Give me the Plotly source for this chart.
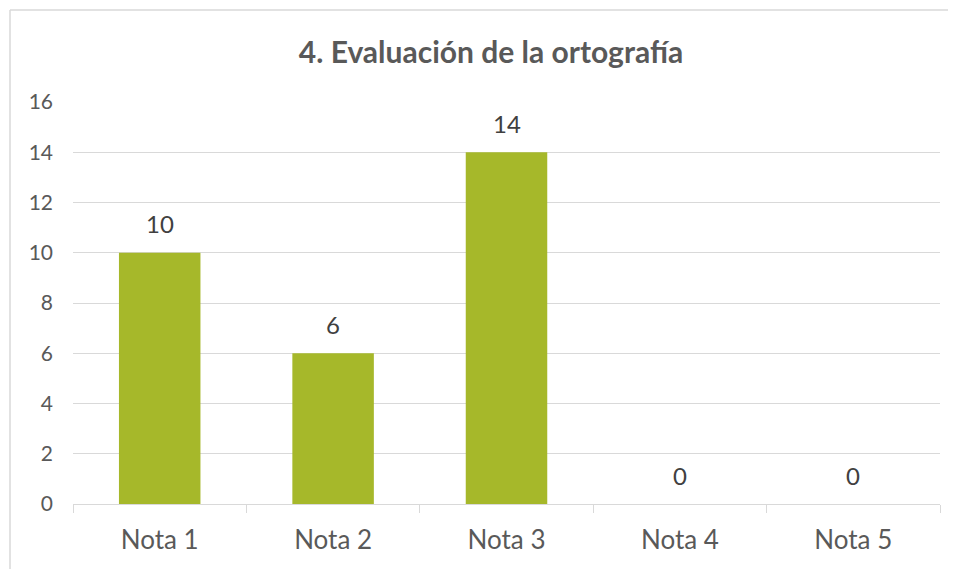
import plotly.graph_objects as go

categories = ["Nota 1", "Nota 2", "Nota 3", "Nota 4", "Nota 5"]
values = [10, 6, 14, 0, 0]
y_ticks = [0, 2, 4, 6, 8, 10, 12, 14, 16]
title_text = "4. Evaluación de la ortografía"

OFF = 8  # page body margin
W, H = 956, 569
L, R, T, B = 73 - OFF, 16 + OFF, 102 - OFF, 65 + OFF
pw, ph = W - L - R, H - T - B
FONT = "Lato, Carlito, sans-serif"

fig = go.Figure()
fig.add_trace(go.Bar(
    x=categories, y=values,
    marker=dict(color="#A6B82A", line=dict(width=0)),
    hoverinfo="skip",
))

for c, v in zip(categories, values):
    fig.add_annotation(x=c, y=v, text=str(v), showarrow=False,
                       yshift=29, font=dict(family=FONT, size=24, color="#404040"))

bx = (10 - OFF - L) / pw
by = (H - B - (10 - OFF)) / ph

fig.update_layout(
    width=W, height=H,
    margin=dict(l=L, r=R, t=T, b=B),
    paper_bgcolor="white", plot_bgcolor="white",
    bargap=0.53,
    showlegend=False,
    title=dict(text="<b>" + title_text + "</b>", x=(491 - OFF) / W, xanchor="center",
               y=1 - (52 - OFF) / H, yanchor="middle",
               font=dict(family=FONT, size=30, color="#595959")),
    font=dict(family=FONT, color="#595959"),
    xaxis=dict(showline=True, linecolor="#D9D9D9", linewidth=1,
               ticks="outside", tickson="boundaries", ticklen=8, tickcolor="#D9D9D9",
               tickfont=dict(size=26, color="#595959"), showgrid=False,
               ticklabelstandoff=13),
    yaxis=dict(range=[0, 16], tickvals=y_ticks, showgrid=True, gridcolor="#D9D9D9",
               gridwidth=1, zeroline=False, showline=False,
               tickfont=dict(size=21, color="#595959"), ticklabelstandoff=19),
    shapes=[dict(type="line", xref="paper", yref="paper",
                 x0=bx, x1=bx, y0=by, y1=-1,
                 line=dict(color="#D9D9D9", width=1.5)),
            dict(type="line", xref="paper", yref="paper",
                 x0=bx, x1=2, y0=by, y1=by,
                 line=dict(color="#D9D9D9", width=1.5))],
)

fig.write_html("out.html")
